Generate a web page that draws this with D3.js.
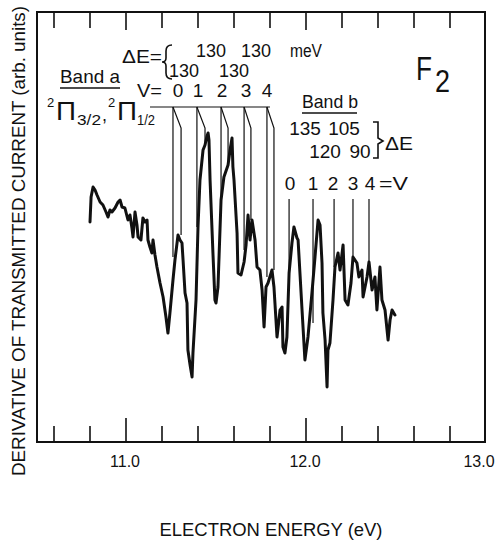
<!DOCTYPE html>
<html>
<head>
<meta charset="utf-8">
<script src="https://cdn.jsdelivr.net/npm/d3@7"></script>
<style>
  html, body { margin: 0; padding: 0; background: #fff; }
  svg { display: block; }
  text { font-family: "Liberation Sans", Arial, sans-serif; fill: #111; }
</style>
</head>
<body>
<svg id="chart" width="502" height="540"></svg>
<script>
// ---- data (energy in eV, derivative signal in arbitrary units) ----
const energy = [
  10.800,10.806,10.817,10.828,10.839,10.856,10.872,10.889,10.900,10.911,10.922,10.939,10.956,10.967,10.978,10.994,
  11.011,11.022,11.033,11.039,11.050,11.061,11.067,11.083,11.094,11.106,11.117,11.122,11.133,11.144,11.150,11.161,
  11.172,11.189,11.206,11.222,11.233,11.244,11.261,11.272,11.289,11.300,11.311,11.317,11.328,11.339,11.344,11.356,
  11.367,11.372,11.389,11.400,11.411,11.428,11.439,11.450,11.456,11.461,11.467,11.483,11.494,11.500,11.511,11.528,
  11.544,11.567,11.578,11.589,11.594,11.600,11.617,11.622,11.639,11.656,11.667,11.678,11.689,11.700,11.717,11.728,
  11.744,11.756,11.767,11.778,11.789,11.811,11.822,11.839,11.856,11.867,11.872,11.883,11.894,11.906,11.922,11.933,
  11.950,11.956,11.978,11.994,12.011,12.033,12.050,12.067,12.078,12.089,12.094,12.106,12.117,12.122,12.133,12.150,
  12.161,12.178,12.189,12.206,12.217,12.233,12.250,12.261,12.283,12.294,12.311,12.317,12.339,12.350,12.367,12.383,
  12.394,12.411,12.422,12.439,12.456,12.467,12.478,12.494
];
const signal = [
  220,245,255,252,247,240,237,230,225,232,230,234,240,242,235,234,
  222,227,214,205,230,217,205,202,224,220,222,202,195,189,202,187,
  175,159,145,125,109,129,162,182,207,202,199,182,149,139,92,77,
  65,89,142,215,262,292,297,306,309,302,262,189,142,139,155,242,
  265,277,292,304,275,262,209,169,167,180,197,227,202,222,202,175,
  172,152,115,155,159,172,155,105,132,135,95,89,105,169,199,215,
  204,202,132,82,105,149,185,222,217,179,129,102,55,92,99,142,
  175,189,172,197,142,137,159,185,179,165,172,145,165,180,152,165,
  132,175,142,132,102,122,132,127
];

// Band a: vibrational levels V=0..4 for 2Pi3/2 and 2Pi1/2 components
const bandAVLabels = ["0","1","2","3","4"];
const bandAPi32 = [11.261, 11.394, 11.528, 11.656, 11.783];
const bandAPi12 = [11.306, 11.439, 11.567, 11.694, 11.822];
const bandAPi32End = [185, 215, 239, 192, 165];
const bandAPi12End = [207, 297, 277, 222, 172];
const bandADeltaRow1 = ["130", "130"];
const bandADeltaRow2 = ["130", "130"];

// Band b
const bandBVLabels = ["0","1","2","3","4"];
const bandBLevels = [11.906, 12.039, 12.156, 12.261, 12.350];
const bandBEnd = [174, 119, 175, 184, 180];
const bandBDeltaRow1 = ["135", "105"];
const bandBDeltaRow2 = ["120", "90"];

const xTickValues = [10.6,10.8,11.0,11.2,11.4,11.6,11.8,12.0,12.2,12.4,12.6,12.8];
const xTickLabels = ["11.0", "12.0", "13.0"];
const xTickLabelValues = [11.0, 12.0, 13.0];

// ---- layout ----
const svg = d3.select("#chart");
const x = d3.scaleLinear().domain([10.5, 13.0]).range([36, 486]);
const y = d3.scaleLinear().domain([0, 430]).range([442, 12]);

const ink = "#111";

// frame
svg.append("rect")
  .attr("x", 37).attr("y", 12).attr("width", 448).attr("height", 430)
  .attr("fill", "none").attr("stroke", ink).attr("stroke-width", 2);

// ticks
const isMajor = v => Math.abs(v - Math.round(v)) < 1e-6;
svg.append("g").selectAll("line").data(xTickValues).join("line")
  .attr("x1", d => x(d)).attr("x2", d => x(d))
  .attr("y1", 442).attr("y2", d => isMajor(d) ? 418 : 426)
  .attr("stroke", ink).attr("stroke-width", 1.6);
svg.append("g").selectAll("line").data(xTickValues).join("line")
  .attr("x1", d => x(d)).attr("x2", d => x(d))
  .attr("y1", 12).attr("y2", d => isMajor(d) ? 30 : 28)
  .attr("stroke", ink).attr("stroke-width", 1.6);

// tick labels
svg.append("g").selectAll("text").data(xTickLabelValues).join("text")
  .attr("x", (d, i) => i === 2 ? 479 : x(d) - 1)
  .attr("y", 467)
  .attr("text-anchor", "middle")
  .attr("font-size", 16)
  .text((d, i) => xTickLabels[i]);

// axis titles
svg.append("text")
  .attr("x", 271).attr("y", 536)
  .attr("text-anchor", "middle")
  .attr("font-size", 19)
  .attr("textLength", 223).attr("lengthAdjust", "spacingAndGlyphs")
  .text("ELECTRON ENERGY (eV)");

svg.append("text")
  .attr("transform", "translate(25,241) rotate(-90)")
  .attr("text-anchor", "middle")
  .attr("font-size", 17.5)
  .attr("textLength", 470).attr("lengthAdjust", "spacingAndGlyphs")
  .text("DERIVATIVE OF TRANSMITTED CURRENT (arb. units)");

// F2
svg.append("text").attr("x", 416).attr("y", 80).attr("font-size", 34)
  .attr("textLength", 16).attr("lengthAdjust", "spacingAndGlyphs").text("F");
svg.append("text").attr("x", 435).attr("y", 92).attr("font-size", 32)
  .attr("textLength", 15).attr("lengthAdjust", "spacingAndGlyphs").text("2");

// ---- data curve ----
const pts = energy.map((e, i) => [e, signal[i]]);
svg.append("path")
  .datum(pts)
  .attr("fill", "none")
  .attr("stroke", ink)
  .attr("stroke-width", 3)
  .attr("stroke-linejoin", "round")
  .attr("stroke-linecap", "round")
  .attr("d", d3.line().x(d => x(d[0])).y(d => y(d[1])));

// ---- Band a annotation ----
const topA = 107, kinkA = 128;
const gA = svg.append("g").attr("stroke", ink).attr("stroke-width", 1.2).attr("fill", "none");
gA.append("line").attr("x1", 150).attr("x2", x(bandAPi32[4]) + 3).attr("y1", topA).attr("y2", topA);
bandAPi32.forEach((e, i) => {
  gA.append("line").attr("x1", x(e)).attr("x2", x(e)).attr("y1", topA).attr("y2", y(bandAPi32End[i]));
  gA.append("path").attr("d",
    `M${x(e)},${topA} L${x(bandAPi12[i])},${kinkA} L${x(bandAPi12[i])},${y(bandAPi12End[i])}`);
});
// V labels
svg.append("text").attr("x", 137).attr("y", 97).attr("font-size", 18)
  .attr("textLength", 25).attr("lengthAdjust", "spacingAndGlyphs").text("V=");
svg.append("g").selectAll("text").data(bandAVLabels).join("text")
  .attr("x", (d, i) => [178, 198, 222, 246, 267][i])
  .attr("y", 97).attr("text-anchor", "middle").attr("font-size", 19)
  .text(d => d);
// ΔE = { rows
svg.append("text").attr("x", 122).attr("y", 63).attr("font-size", 18)
  .attr("textLength", 40).attr("lengthAdjust", "spacingAndGlyphs").text("ΔE=");
svg.append("path").attr("fill", "none").attr("stroke", ink).attr("stroke-width", 1.6)
  .attr("d", "M172,45 Q166,45 166,51 L166,58 Q166,62 162,62 Q166,62 166,66 L166,73 Q166,79 172,79");
svg.append("g").selectAll("text").data(bandADeltaRow1).join("text")
  .attr("x", (d, i) => [211, 256][i]).attr("y", 57)
  .attr("text-anchor", "middle").attr("font-size", 18).text(d => d);
svg.append("text").attr("x", 290).attr("y", 57).attr("font-size", 18)
  .attr("textLength", 32).attr("lengthAdjust", "spacingAndGlyphs").text("meV");
svg.append("g").selectAll("text").data(bandADeltaRow2).join("text")
  .attr("x", (d, i) => [184, 234][i]).attr("y", 77)
  .attr("text-anchor", "middle").attr("font-size", 18).text(d => d);
// Band a label
svg.append("text").attr("x", 60).attr("y", 83).attr("font-size", 19)
  .attr("textLength", 60).attr("lengthAdjust", "spacingAndGlyphs").text("Band a");
svg.append("line").attr("x1", 60).attr("x2", 120).attr("y1", 88).attr("y2", 88)
  .attr("stroke", ink).attr("stroke-width", 1.6);
// 2Π3/2, 2Π1/2
const pi = svg.append("g");
pi.append("text").attr("x", 47).attr("y", 107).attr("font-size", 13).text("2");
pi.append("text").attr("x", 56).attr("y", 120).attr("font-size", 25).attr("textLength", 20).attr("lengthAdjust", "spacingAndGlyphs").text("Π");
pi.append("text").attr("x", 77).attr("y", 125).attr("font-size", 15).attr("textLength", 24).attr("lengthAdjust", "spacingAndGlyphs").text("3/2");
pi.append("text").attr("x", 102).attr("y", 121).attr("font-size", 18).text(",");
pi.append("text").attr("x", 108).attr("y", 107).attr("font-size", 13).text("2");
pi.append("text").attr("x", 117).attr("y", 120).attr("font-size", 25).attr("textLength", 20).attr("lengthAdjust", "spacingAndGlyphs").text("Π");
pi.append("text").attr("x", 137).attr("y", 125).attr("font-size", 15).attr("textLength", 18).attr("lengthAdjust", "spacingAndGlyphs").text("1/2");

// ---- Band b annotation ----
const topB = 199;
svg.append("g").selectAll("line").data(bandBLevels).join("line")
  .attr("x1", d => x(d)).attr("x2", d => x(d))
  .attr("y1", topB).attr("y2", (d, i) => y(bandBEnd[i]))
  .attr("stroke", ink).attr("stroke-width", 1.2);
svg.append("text").attr("x", 302).attr("y", 108).attr("font-size", 19)
  .attr("textLength", 56).attr("lengthAdjust", "spacingAndGlyphs").text("Band b");
svg.append("line").attr("x1", 302).attr("x2", 357).attr("y1", 113).attr("y2", 113)
  .attr("stroke", ink).attr("stroke-width", 1.6);
svg.append("g").selectAll("text").data(bandBDeltaRow1).join("text")
  .attr("x", (d, i) => [305, 344][i]).attr("y", 135)
  .attr("text-anchor", "middle").attr("font-size", 19).text(d => d);
svg.append("g").selectAll("text").data(bandBDeltaRow2).join("text")
  .attr("x", (d, i) => [325, 360][i]).attr("y", 158)
  .attr("text-anchor", "middle").attr("font-size", 19).text(d => d);
svg.append("path").attr("fill", "none").attr("stroke", ink).attr("stroke-width", 1.6)
  .attr("d", "M373,122 L378,122 L378,138 L383,141 L378,144 L378,158 L373,158");
svg.append("text").attr("x", 385).attr("y", 150).attr("font-size", 19)
  .attr("textLength", 28).attr("lengthAdjust", "spacingAndGlyphs").text("ΔE");
svg.append("g").selectAll("text").data(bandBVLabels).join("text")
  .attr("x", (d, i) => [290, 313, 333, 353, 370][i]).attr("y", 190)
  .attr("text-anchor", "middle").attr("font-size", 19).text(d => d);
svg.append("text").attr("x", 379).attr("y", 190).attr("font-size", 19)
  .attr("textLength", 29).attr("lengthAdjust", "spacingAndGlyphs").text("=V");
</script>
</body>
</html>
